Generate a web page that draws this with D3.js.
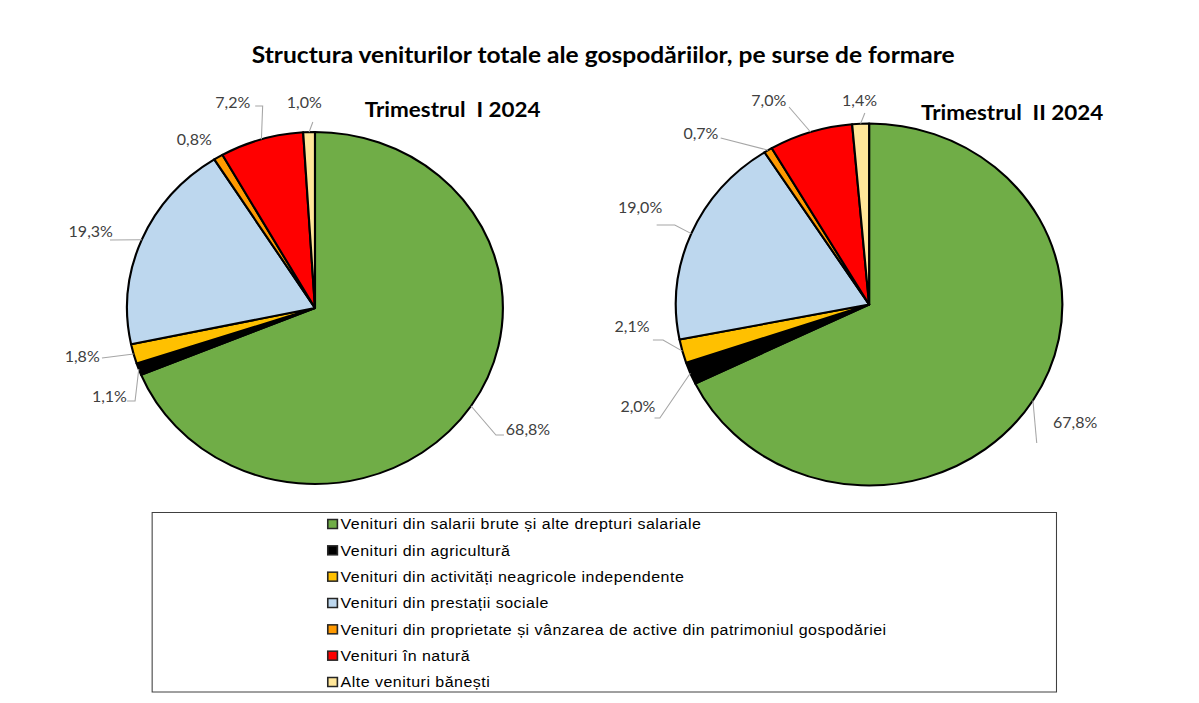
<!DOCTYPE html>
<html>
<head>
<meta charset="utf-8">
<script src="https://cdn.jsdelivr.net/npm/d3@7"></script>
<style>
  body { margin: 0; background: #fff; }
  svg { display: block; }
</style>
</head>
<body>
<div id="chart"></div>
<script>
// data
var categories = [
    'Venituri din salarii brute și alte drepturi salariale',
    'Venituri din agricultură',
    'Venituri din activități neagricole independente',
    'Venituri din prestații sociale',
    'Venituri din proprietate și vânzarea de active din patrimoniul gospodăriei',
    'Venituri în natură',
    'Alte venituri bănești'
];
var q1Values = [68.8, 1.1, 1.8, 19.3, 0.8, 7.2, 1.0];
var q2Values = [67.8, 2.0, 2.1, 19.0, 0.7, 7.0, 1.4];
var periods = ['Trimestrul  I 2024', 'Trimestrul  II 2024'];
var chartTitle = 'Structura veniturilor totale ale gospodăriilor, pe surse de formare';

var colors = ['#70AD47', '#000000', '#FFC000', '#BDD7EE', '#FF9900', '#FF0000', '#FFE699'];

// the original picture is stretched sideways, so draw in a narrower space and stretch it
var W = 1199, H = 703, stretch = 1.0677;
var svg = d3.select('#chart').append('svg')
    .attr('width', W).attr('height', H)
    .attr('viewBox', '0 0 ' + (W / stretch) + ' ' + H)
    .attr('preserveAspectRatio', 'none');

svg.append('text')
    .attr('x', 565).attr('y', 63)
    .attr('text-anchor', 'middle')
    .attr('font-family', 'Lato, sans-serif').attr('font-weight', 'bold')
    .attr('font-size', 23).attr('fill', '#000')
    .text(chartTitle);

// pie placement and hand placed labels (like the dragged labels in the original)
var pies = [
    {values: q1Values, title: periods[0], cx: 295, cy: 308, r: 176, tx: 424, ty: 117,
     labels: [[494.5, 430], [102.5, 397], [77, 357], [85, 232], [182, 140], [218, 103], [285, 103]],
     leaders: [[[472, 435], [464.5, 435]], [[119, 401], [126.5, 401]], [[95.5, 358]], [[103, 240]], null,
               [[239, 106], [246, 106]], [[293, 122]]]},
    {values: q2Values, title: periods[1], cx: 814, cy: 304.5, r: 181, tx: 948, ty: 120,
     labels: [[1007, 423], [597.5, 407], [592, 327], [599.5, 208], [656.5, 134], [720, 101], [805, 101]],
     leaders: [[[971, 443]], [[613, 418], [618, 418]], [[611.5, 340], [621, 340]], [[615, 225], [632, 225]],
               [[675, 138]], [[739, 107]], [[810, 113]]]}
];

var fmt = function(v) { return d3.format('.1f')(v).replace('.', ',') + '%'; };

pies.forEach(function(p) {
    var pie = d3.pie().sort(null).value(function(d) { return d; });
    var arcs = pie(p.values);
    var arc = d3.arc().innerRadius(0).outerRadius(p.r);
    var g = svg.append('g').attr('transform', 'translate(' + p.cx + ',' + p.cy + ')');

    // leader lines first so the slices sit on top
    arcs.forEach(function(d, i) {
        if (!p.leaders[i]) return;
        var a = (d.startAngle + d.endAngle) / 2;
        var edge = [p.cx + p.r * Math.sin(a), p.cy - p.r * Math.cos(a)];
        var pts = p.leaders[i].concat([edge]);
        svg.append('path')
            .attr('d', d3.line()(pts))
            .attr('fill', 'none').attr('stroke', '#A6A6A6').attr('stroke-width', 1);
    });

    g.selectAll('path.slice')
        .data(arcs).enter().append('path')
        .attr('class', 'slice')
        .attr('d', arc)
        .attr('fill', function(d, i) { return colors[i]; })
        .attr('stroke', '#000').attr('stroke-width', 2)
        .attr('stroke-linejoin', 'round');

    svg.selectAll(null)
        .data(arcs).enter().append('text')
        .attr('x', function(d, i) { return p.labels[i][0]; })
        .attr('y', function(d, i) { return p.labels[i][1]; })
        .attr('dy', '0.35em')
        .attr('text-anchor', 'middle')
        .attr('font-family', 'Lato, sans-serif').attr('font-size', 15)
        .attr('fill', '#404040')
        .text(function(d) { return fmt(d.data); });

    svg.append('text')
        .attr('x', p.tx).attr('y', p.ty)
        .attr('text-anchor', 'middle')
        .attr('font-family', 'Lato, sans-serif').attr('font-weight', 'bold')
        .attr('font-size', 21).attr('fill', '#000')
        .style('white-space', 'pre')
        .text(p.title);
});

// legend
var legend = svg.append('g');
legend.append('rect')
    .attr('x', 142.5).attr('y', 512.5).attr('width', 847).attr('height', 179.5)
    .attr('fill', '#fff').attr('stroke', '#404040').attr('stroke-width', 1);

var rowY = d3.scalePoint().domain(d3.range(categories.length)).range([524, 682]);
var items = legend.selectAll('g.item')
    .data(categories).enter().append('g').attr('class', 'item');
items.append('rect')
    .attr('x', 307).attr('y', function(d, i) { return rowY(i) - 4.5; })
    .attr('width', 9).attr('height', 9)
    .attr('fill', function(d, i) { return colors[i]; })
    .attr('stroke', '#262626').attr('stroke-width', 1.5);
items.append('text')
    .attr('x', 319).attr('y', function(d, i) { return rowY(i); })
    .attr('dy', '0.35em')
    .attr('font-family', '"Liberation Sans", Arial, sans-serif').attr('font-size', 15)
    .attr('letter-spacing', 0.45)
    .attr('fill', '#000')
    .text(function(d) { return d; });
</script>
</body>
</html>
